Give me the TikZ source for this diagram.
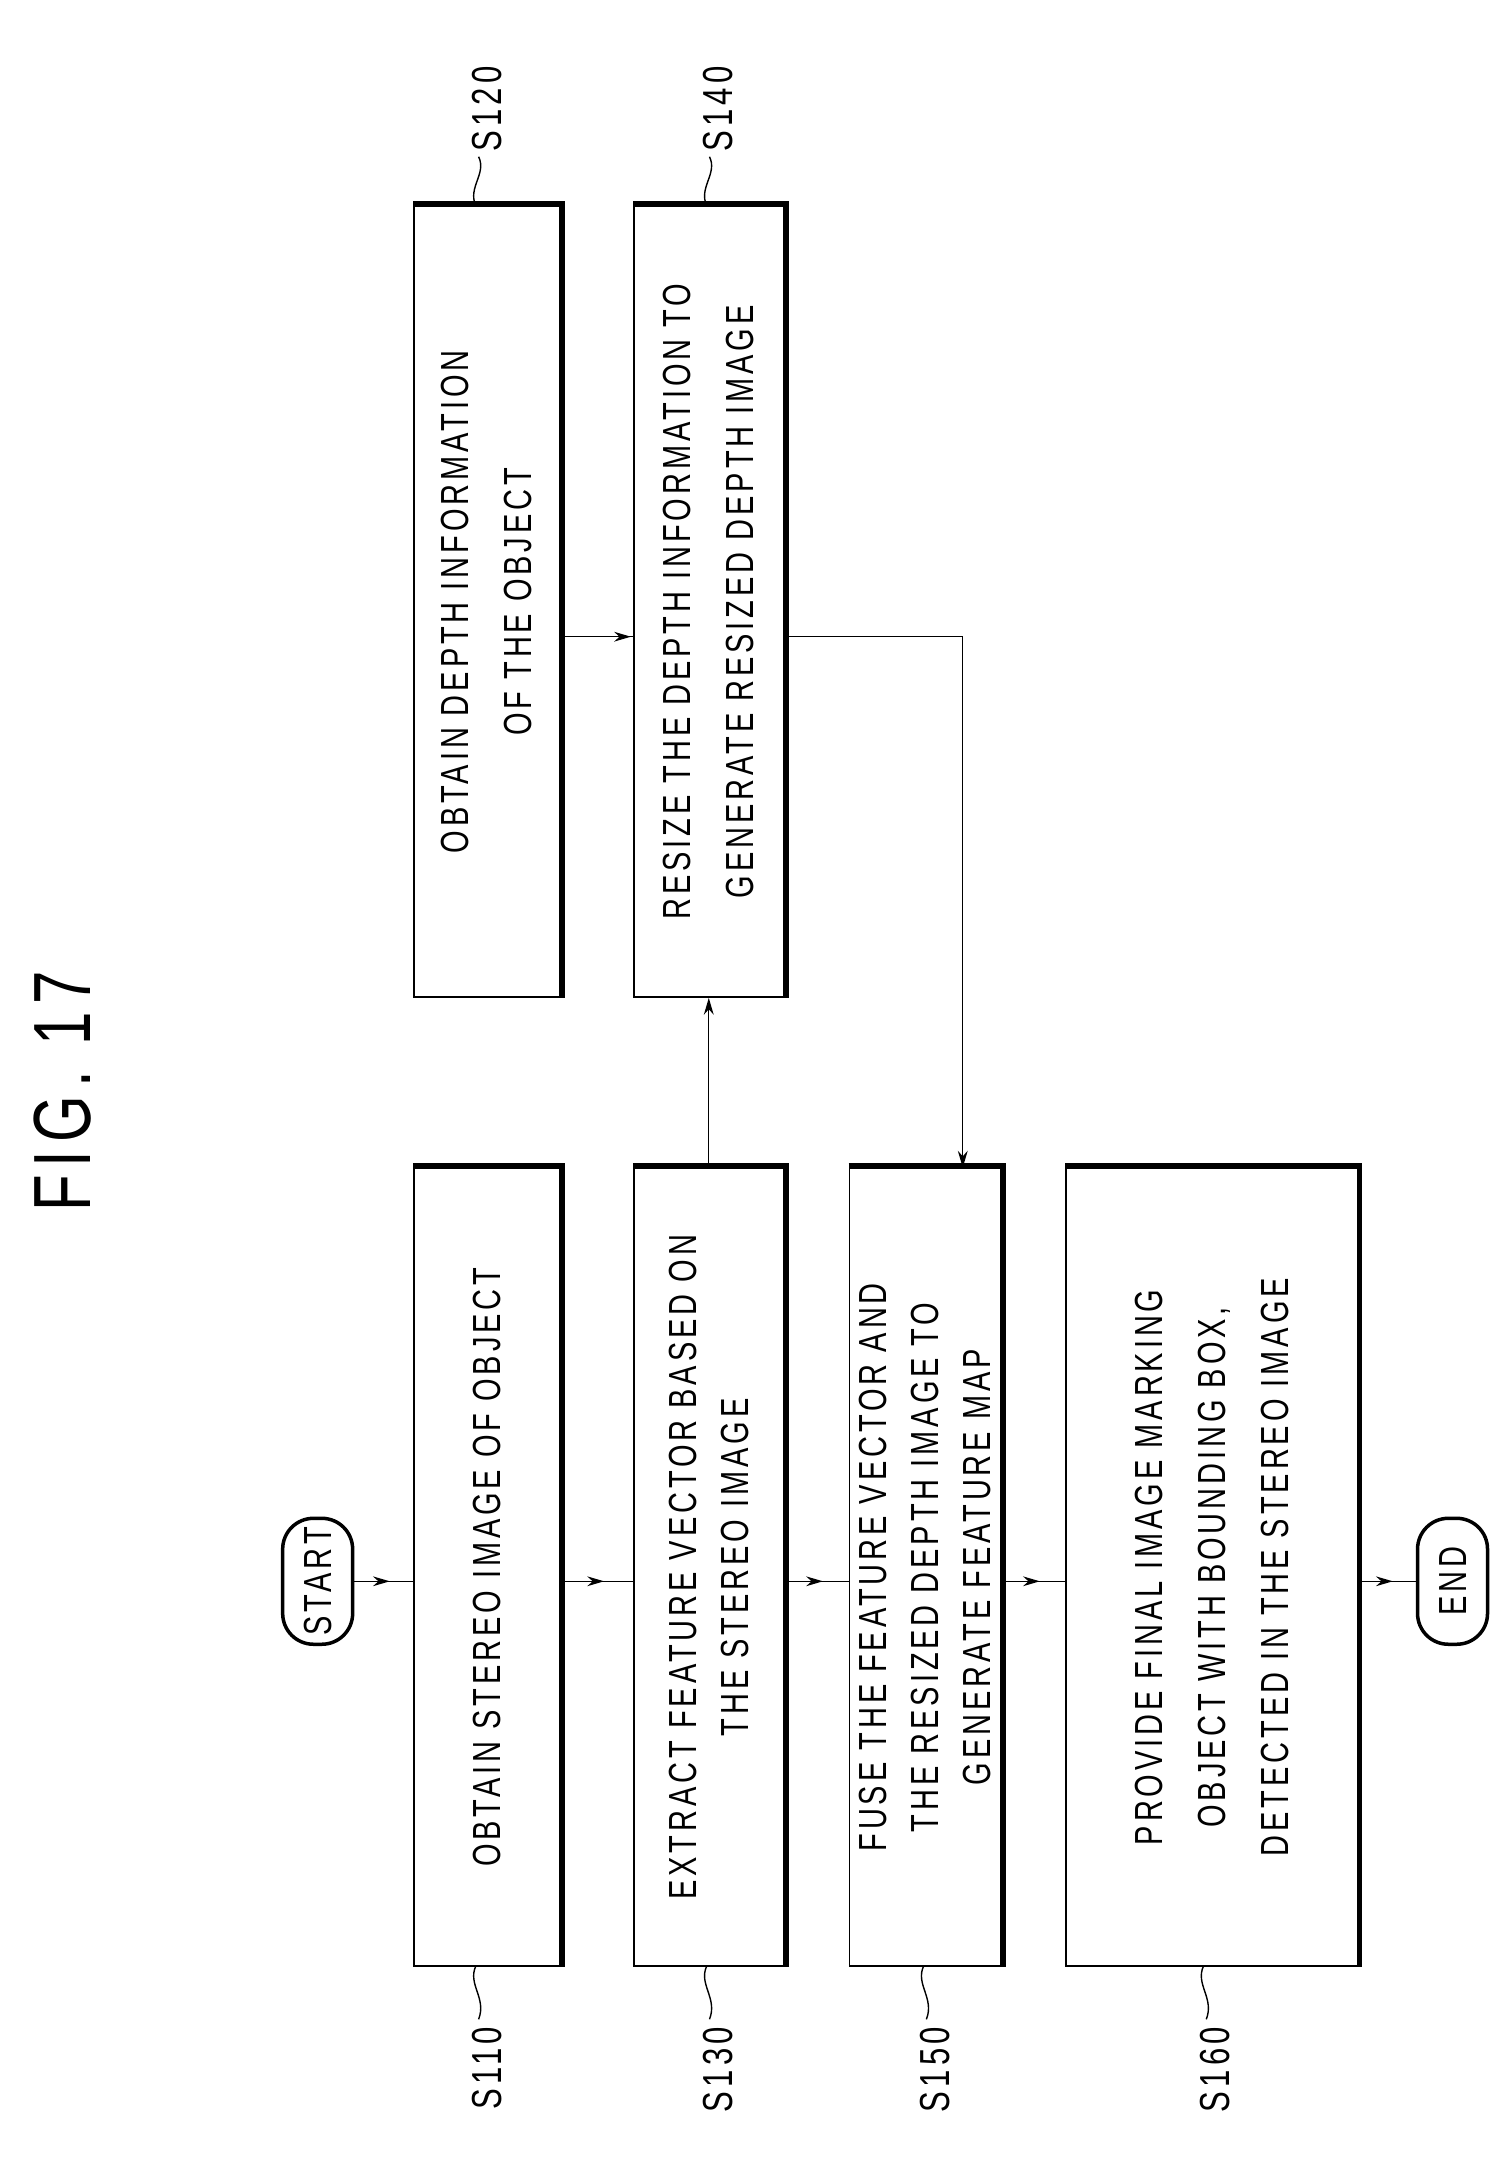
\documentclass[tikz,border=0pt]{standalone}
\usepackage{fontspec}
\setmainfont[FakeStretch=0.74,LetterSpace=10]{Liberation Sans}
\usetikzlibrary{arrows.meta,calc}
\begin{document}
\begin{tikzpicture}[x=1pt,y=-1pt,
  box/.style={draw,line width=1.2pt,rectangle,inner sep=0pt},
  txt/.style={rotate=90,align=center,font=\fontsize{28}{37}\selectfont},
  term/.style={draw,line width=2.5pt,rounded corners=22pt,inner sep=0pt,minimum width=50pt,minimum height=90pt},
  lab/.style={rotate=90,font=\fontsize{30}{30}\selectfont},
  conn/.style={line width=1pt},
  arr/.style={line width=1pt,-{Stealth[length=12pt,width=7pt]}}]
\useasboundingbox (0,0) rectangle (1080,1560);
\node[rotate=90,font=\fontsize{58}{58}\selectfont] (fig) at (45,780) {FIG. 17};
% boxes
\node[box,minimum width=104pt,minimum height=570pt] (s110) at (348,1120) {};
\node[box,minimum width=107pt,minimum height=570pt] (s130) at (506.5,1120) {};
\node[box,minimum width=108pt,minimum height=570pt] (s150) at (661,1120) {};
\node[box,minimum width=208pt,minimum height=570pt] (s160) at (866,1120) {};
\node[box,minimum width=104pt,minimum height=565pt] (s120) at (348,430) {};
\node[box,minimum width=107pt,minimum height=565pt] (s140) at (506.5,430) {};
\foreach \b in {s110,s130,s150,s160,s120,s140}{
  \draw[line width=4pt] ($(\b.north west)+(0,-1)$) -- ($(\b.north east)+(1,-1)$) -- ($(\b.south east)+(1,0)$);}
% texts
\node[txt] (t110) at (s110) {OBTAIN STEREO IMAGE OF OBJECT};
\node[txt] (t130) at (s130) {EXTRACT FEATURE VECTOR BASED ON\\THE STEREO IMAGE};
\node[txt] (t150) at (s150) {FUSE THE FEATURE VECTOR AND\\THE RESIZED DEPTH IMAGE TO\\GENERATE FEATURE MAP};
\node[txt,font=\fontsize{28}{45}\selectfont] (t160) at (s160) {PROVIDE FINAL IMAGE MARKING\\OBJECT WITH BOUNDING BOX,\\DETECTED IN THE STEREO IMAGE};
\node[txt,font=\fontsize{28}{45}\selectfont] (t120) at (s120) {OBTAIN DEPTH INFORMATION\\OF THE OBJECT};
\node[txt,font=\fontsize{28}{45}\selectfont] (t140) at (s140) {RESIZE THE DEPTH INFORMATION TO\\GENERATE RESIZED DEPTH IMAGE};
% terminals
\node[term] (start) at (227,1130) {\rotatebox{90}{\fontsize{28}{28}\selectfont START}};
\node[term] (end) at (1038,1130) {\rotatebox{90}{\fontsize{28}{28}\selectfont END}};
% connectors
\foreach \a/\b in {start/s110,s110/s130,s130/s150,s150/s160,s160/end}{
  \draw[conn] (\a.east |- 0,1130) -- (\b.west |- 0,1130);
  \draw[arr] (\a.east |- 0,1130) -- ($(\a.east |- 0,1130)!0.6!(\b.west |- 0,1130)$);}
\draw[conn] (s120.east |- 0,455) -- (s140.west |- 0,455);
\draw[arr] (s120.east |- 0,455) -- ($(s120.east |- 0,455)!0.97!(s140.west |- 0,455)$);
\draw[arr] (s130.north) -- (s140.south);
\coordinate (c1) at (688,455);
\draw[arr] (s140.east |- c1) -- (c1) -- (c1 |- s150.north);
% labels
\foreach \b/\x/\l in {s110/340/S110,s130/505/S130,s150/660/S150,s160/860/S160}{
  \node[lab,anchor=east] (l\l) at (\x+8,1445) {\l};
  \draw[line width=1pt] (\x,1405) .. controls (\x-6,1418) and (\x+8,1428) .. (\x+2,1443);}
\foreach \b/\x/\l in {s120/340/S120,s140/505/S140}{
  \node[lab,anchor=west] (l\l) at (\x+8,112) {\l};
  \draw[line width=1pt] (\x,147) .. controls (\x-6,134) and (\x+8,124) .. (\x+2,112);}
\end{tikzpicture}
\end{document}
